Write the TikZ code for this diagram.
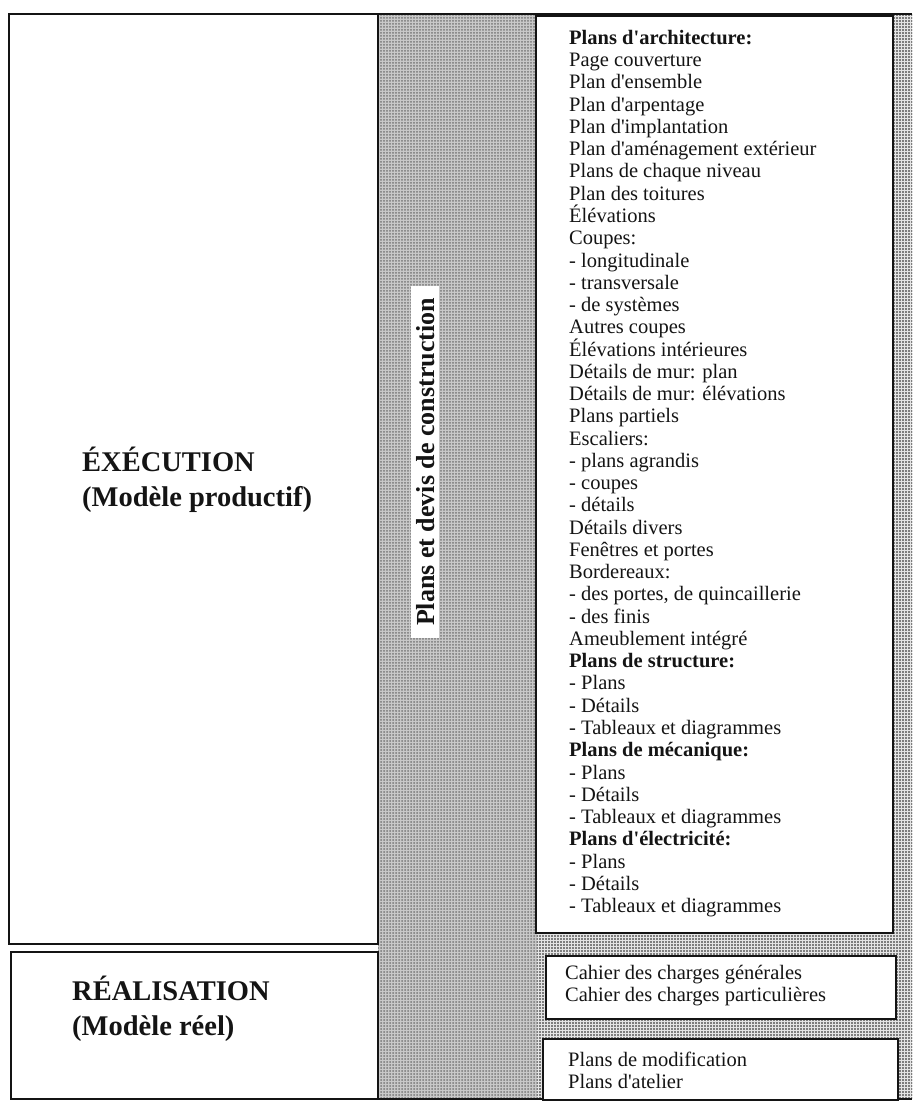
\documentclass[tikz,border=0pt]{standalone}
\usepackage{fontspec}
\setmainfont{Liberation Serif}
\usepackage{xcolor}
\usepackage{tikz}
\usetikzlibrary{patterns, patterns.meta, positioning}
\definecolor{mydark}{RGB}{20,20,20}
\definecolor{myshade}{RGB}{120,120,120}
\newcommand{\apos}{\textquotesingle}
\tikzset{
  frame/.style={draw=mydark, line width=1.6pt},
  listbox/.style={rectangle, draw=mydark, fill=white, line width=2pt,
    inner sep=0pt, anchor=north west},
  listtext/.style={align=left, anchor=north west, inner sep=0pt,
    font=\fontsize{20.5}{22.26}\selectfont, text=mydark},
  phase/.style={align=left, anchor=north west, inner sep=0pt,
    font=\fontsize{28.5}{35}\selectfont\bfseries, text=mydark},
  sidelabel/.style={rotate=90, fill=white, anchor=base,
    font=\fontsize{26}{30}\selectfont\bfseries, text=mydark,
    inner xsep=12pt, inner ysep=5pt}
}

\begin{document}
\begin{tikzpicture}[x=1pt, y=-1pt]
  \useasboundingbox (0,0) rectangle (914,1107);

  % Shaded column and dotted strips
  \fill[white!60!myshade] (378,15) rectangle (537,1099);
  \fill[pattern={Dots[radius=1.0pt, distance=3pt]}, pattern color=myshade] (378,15) rectangle (537,1099);
  \fill[white!80!myshade] (537,15) rectangle (912,1099);
  \fill[pattern={Dots[radius=0.9pt, distance=3pt]}, pattern color=mydark] (537,15) rectangle (912,1099);

  % Left column frames
  \draw[frame] (9,14) rectangle (378,944);
  \draw[frame] (11,952) rectangle (378,1099);
  \draw[frame] (378,14) -- (912,14);
  \draw[frame] (378,1099) -- (912,1099);

  % Phase labels
  \node[phase] (execution) at (82,447) {ÉXÉCUTION\\(Modèle productif)};
  \node[phase] (realisation) at (72,976) {RÉALISATION\\(Modèle réel)};

  % Vertical label
  \node[sidelabel] (plansdevis) at (434,462) {Plans et devis de construction};

  % Drawing list
  \node[listbox, minimum width=357pt, minimum height=917pt] (archbox) at (535,15) {};
  \node[listtext] (archlist) at (569,30) {\textbf{Plans d\apos architecture:}\\
    Page couverture\\
    Plan d\apos ensemble\\
    Plan d\apos arpentage\\
    Plan d\apos implantation\\
    Plan d\apos aménagement extérieur\\
    Plans de chaque niveau\\
    Plan des toitures\\
    Élévations\\
    Coupes:\\
    - longitudinale\\
    - transversale\\
    - de systèmes\\
    Autres coupes\\
    Élévations intérieures\\
    Détails de mur: plan\\
    Détails de mur: élévations\\
    Plans partiels\\
    Escaliers:\\
    - plans agrandis\\
    - coupes\\
    - détails\\
    Détails divers\\
    Fenêtres et portes\\
    Bordereaux:\\
    - des portes, de quincaillerie\\
    - des finis\\
    Ameublement intégré\\
    \textbf{Plans de structure:}\\
    - Plans\\
    - Détails\\
    - Tableaux et diagrammes\\
    \textbf{Plans de mécanique:}\\
    - Plans\\
    - Détails\\
    - Tableaux et diagrammes\\
    \textbf{Plans d\apos électricité:}\\
    - Plans\\
    - Détails\\
    - Tableaux et diagrammes};

  % Specifications
  \node[listbox, minimum width=350pt, minimum height=63pt] (chargebox) at (545,955) {};
  \node[listtext] (chargelist) at (565,965) {Cahier des charges générales\\
    Cahier des charges particulières};

  % Shop drawings
  \node[listbox, minimum width=355pt, minimum height=61pt] (atelierbox) at (542,1038) {};
  \node[listtext] (atelierlist) at (568,1052) {Plans de modification\\
    Plans d\apos atelier};
\end{tikzpicture}
\end{document}
